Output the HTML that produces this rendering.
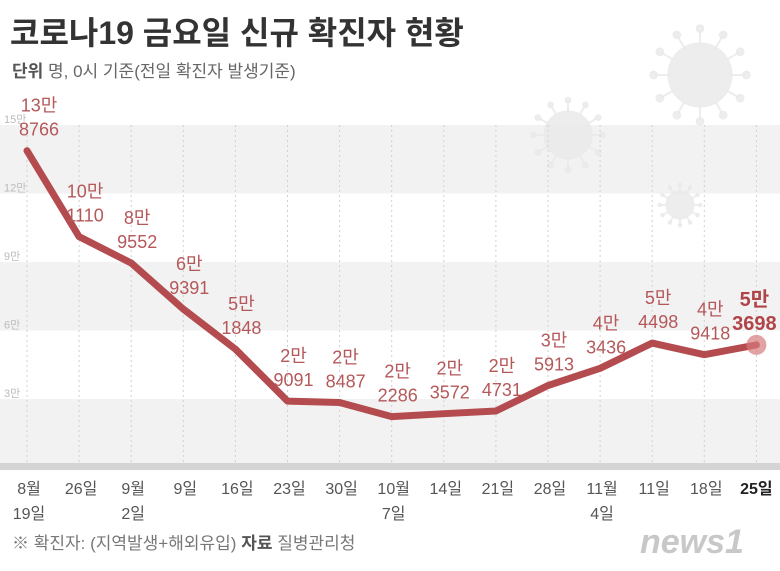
<!DOCTYPE html>
<html><head><meta charset="utf-8">
<style>
body{margin:0;background:#fff;}
svg{display:block;font-family:"Liberation Sans","Noto Sans CJK KR",sans-serif;}
</style></head>
<body>
<svg id="chart" width="780" height="571" viewBox="0 0 780 571">
  <g id="bands"></g>
  <g id="deco"></g>
  <g id="grid"></g>
  <rect x="0" y="463" width="780" height="7" fill="#d4d4d4"/>
  <g id="yticks"></g>
  <g id="xticks"></g>
  <g id="series"></g>
  <g id="labels"></g>
  <text x="10" y="44" font-size="32" font-weight="bold" fill="#333">코로나19 금요일 신규 확진자 현황</text>
  <text x="12" y="77" font-size="17" fill="#666"><tspan font-weight="bold" fill="#555">단위</tspan>  명, 0시 기준(전일 확진자 발생기준)</text>
  <text x="12" y="549" font-size="17" fill="#777">※ 확진자: (지역발생+해외유입)  <tspan font-weight="bold" fill="#555">자료</tspan>  질병관리청</text>
  <text x="640" y="553" font-size="34" font-style="italic" font-weight="bold" fill="#c8c8c8">news1</text>
</svg>
<script>
const categories=[["8월","19일"],["26일"],["9월","2일"],["9일"],["16일"],["23일"],["30일"],["10월","7일"],["14일"],["21일"],["28일"],["11월","4일"],["11일"],["18일"],["25일"]];
const values=[138766,101110,89552,69391,51848,29091,28487,22286,23572,24731,35913,43436,54498,49418,53698];
const labelTop=["13만","10만","8만","6만","5만","2만","2만","2만","2만","2만","3만","4만","5만","4만","5만"];
const labelBottom=["8766","1110","9552","9391","1848","9091","8487","2286","3572","4731","5913","3436","4498","9418","3698"];
const yTicks=[30000,60000,90000,120000,150000];
const yTickLabels=["3만","6만","9만","12만","15만"];
const NS="http://www.w3.org/2000/svg";
const x0=27,dx=52.1;
function xs(i){return x0+i*dx;}
function ys(v){return 467.5-v/10000*22.83;}
function mk(t,a,p){const e=document.createElementNS(NS,t);for(const k in a)e.setAttribute(k,a[k]);p.appendChild(e);return e;}
const bands=document.getElementById('bands');
[0,60000,120000].forEach(s=>{
  const r=mk('rect',{x:0,y:ys(s+30000),width:780,height:ys(s)-ys(s+30000),fill:'#f2f2f2'},bands);
  
  
});
const yt=document.getElementById('yticks');
yTicks.forEach((v,k)=>{
  const t=mk('text',{x:4,y:ys(v)-2,'font-size':11,fill:'#bbb'},yt);
  t.textContent=yTickLabels[k];
  
  
});
const grid=document.getElementById('grid'),xt=document.getElementById('xticks');
categories.forEach((c,i)=>{
  const l=mk('line',{x1:xs(i),x2:xs(i),y1:ys(150000),y2:463,stroke:'#d0d0d0','stroke-dasharray':'2,3','stroke-width':1},grid);
  
  
  const last=i===categories.length-1;
  c.forEach((s,j)=>{
    const t=mk('text',{x:xs(i)+(last?0:2),y:494+j*25,'font-size':16,fill:last?'#222':'#555','font-weight':last?'bold':'normal','text-anchor':'middle'},xt);
    t.textContent=s;
    
    
  });
});
const ser=document.getElementById('series');
const pl=mk('polyline',{points:values.map((v,i)=>xs(i)+','+ys(v)).join(' '),fill:'none',stroke:'#b44c4f','stroke-width':7,'stroke-linejoin':'round','stroke-linecap':'round'},ser);


const li=values.length-1;
const dot=mk('circle',{cx:xs(li),cy:ys(values[li]),r:10,fill:'#d77a7c','fill-opacity':0.7},ser);


const lab=document.getElementById('labels');
values.forEach((v,i)=>{
  const last=i===li;
  const cx=xs(i)+(i===0?12:(last?-2:6));
  const y=ys(v);
  const col=last?'#b04448':'#b5585a';
  const fs=last?20:18;
  const t1=mk('text',{x:cx,y:y-39,'font-size':fs,fill:col,'font-weight':last?'bold':'normal','text-anchor':'middle'},lab);
  t1.textContent=labelTop[i];
  
  
  const t2=mk('text',{x:cx,y:y-15,'font-size':fs,fill:col,'font-weight':last?'bold':'normal','text-anchor':'middle'},lab);
  t2.textContent=labelBottom[i];
  
  
});
const deco=document.getElementById('deco');
[[700,75,32],[568,135,24],[680,205,14]].forEach(([cx,cy,r])=>{
  const g=mk('g',{fill:'#e8e8e8',stroke:'#e8e8e8','fill-opacity':0.8,'stroke-opacity':0.8},deco);
  
  
  mk('circle',{cx:cx,cy:cy,r:r},g);
  for(let a=0;a<12;a++){
    const th=a*Math.PI/6;
    mk('line',{x1:cx+Math.cos(th)*r,y1:cy+Math.sin(th)*r,x2:cx+Math.cos(th)*r*1.4,y2:cy+Math.sin(th)*r*1.4,'stroke-width':2},g);
    mk('circle',{cx:cx+Math.cos(th)*r*1.45,cy:cy+Math.sin(th)*r*1.45,r:r*0.12},g);
  }
});
</script>
</body></html>
